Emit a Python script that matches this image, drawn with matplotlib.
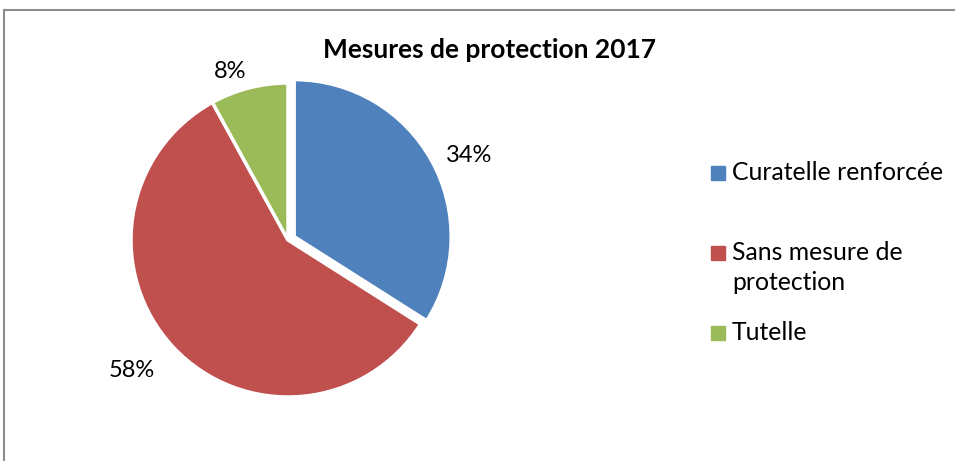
import textwrap
import numpy as np
import matplotlib
matplotlib.use("Agg")
import matplotlib.pyplot as plt
from matplotlib.lines import Line2D
from matplotlib.patches import Rectangle

title = "Mesures de protection 2017"
categories = ["Curatelle renforcée", "Sans mesure de protection", "Tutelle"]
shares = [34, 58, 8]
colors = ["#4F81BD", "#C0504D", "#9BBB59"]

plt.rcParams['font.family'] = ['Lato', 'DejaVu Sans']

W, H = 955, 461
fig = plt.figure(figsize=(W / 100, H / 100), dpi=100)


def fx(px):
    return px / W


def fy(py):
    return 1 - py / H


# chart-area border: only the top and left edges fall inside the image
border = dict(color="#8c8c8c", lw=1.5, transform=fig.transFigure)
fig.add_artist(Line2D([fx(4), fx(4)], [fy(10), 0], **border))
fig.add_artist(Line2D([fx(4), 1], [fy(10), fy(10)], **border))

# pie axes: centre and radius in pixels
cx, cy, r = 288, 240, 157
ax = fig.add_axes([fx(cx - r), fy(cy + r), 2 * r / W, 2 * r / H])
wedges, texts, autotexts = ax.pie(
    shares, colors=colors, explode=[0.045, 0, 0], startangle=90,
    counterclock=False, autopct=lambda p: f"{p:.0f}%",
    wedgeprops=dict(edgecolor="white", linewidth=2.5),
    textprops=dict(fontsize=17, color="black"))
ax.set_xlim(-1, 1)
ax.set_ylim(-1, 1)
ax.axis("off")

# percentage labels outside the slices: (distance, angular nudge in degrees)
label_place = [(1.229, -3.8), (1.294, -3.4), (1.132, 4.6)]
for w, t, (d, nudge) in zip(wedges, autotexts, label_place):
    mid = np.deg2rad((w.theta1 + w.theta2) / 2 + nudge)
    cxw, cyw = w.center
    t.set_position((cxw + d * np.cos(mid), cyw + d * np.sin(mid)))
    t.set_ha("center")
    t.set_va("center")
    t.set_clip_on(False)
for w in wedges:
    w.set_clip_on(False)

fig.text(fx(489), fy(58), title, ha="center", va="baseline",
         fontsize=19, fontweight="bold")

# legend drawn entry by entry, long labels wrapped over two lines
legend_base = [180, 260, 340]
line_gap = 30
for name, col, y in zip(categories, colors, legend_base):
    fig.add_artist(Rectangle((fx(711), fy(y)), 14 / W, 14 / H,
                             transform=fig.transFigure, color=col))
    for i, line in enumerate(textwrap.wrap(name, 19)):
        fig.text(fx(732), fy(y + i * line_gap), line, ha="left",
                 va="baseline", fontsize=17.8)

fig.savefig("out.png", dpi=100)
